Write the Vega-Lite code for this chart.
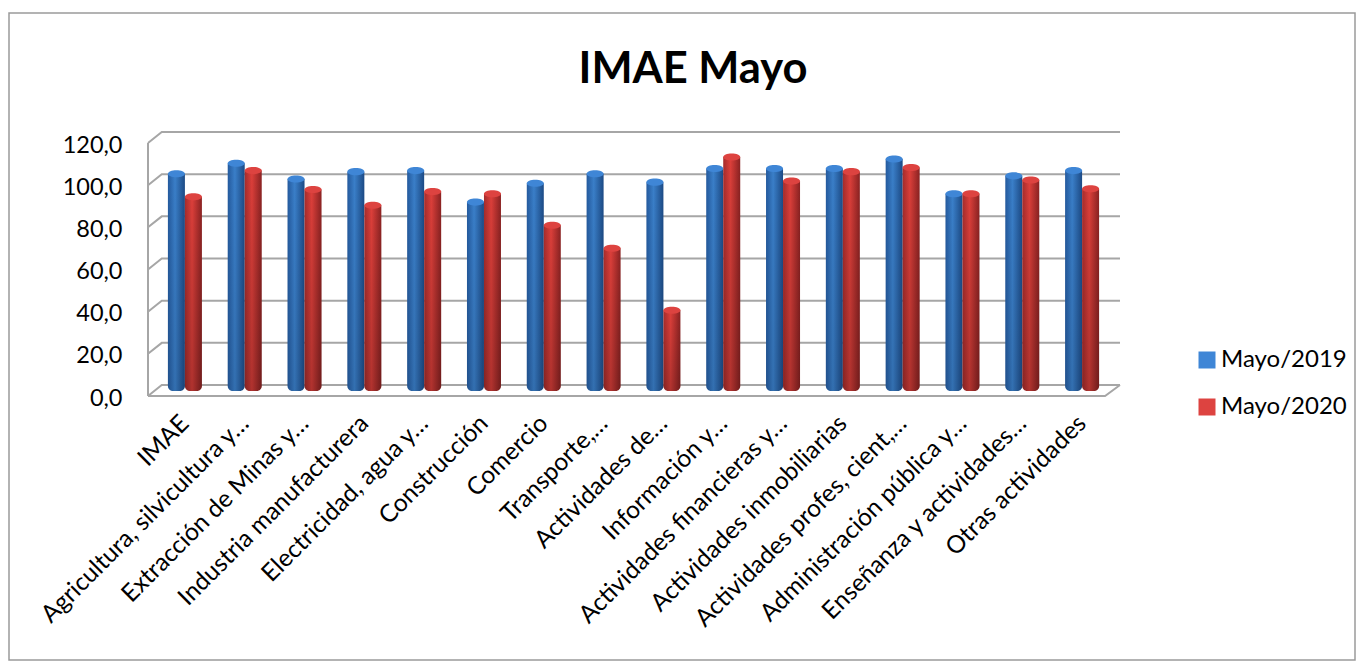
{"$schema":"https://vega.github.io/schema/vega-lite/v6.json","width":1346,"height":647,"autosize":{"type":"none"},"padding":{"left":9,"top":13,"right":9,"bottom":4},"background":"white","title":{"text":"IMAE Mayo","font":"Lato","fontSize":43.5,"fontWeight":"bold","color":"#000000","anchor":"middle","frame":"group","dx":11,"offset":-79},"config":{"view":{"stroke":"#9a9a9a","strokeWidth":1.5},"font":"Lato"},"datasets":{"bars":[{"cat":"IMAE","y2019":102.5,"y2020":91.5},{"cat":"Agricultura, silvicultura y…","y2019":107.5,"y2020":104},{"cat":"Extracción de Minas y…","y2019":100,"y2020":95},{"cat":"Industria manufacturera","y2019":103.5,"y2020":87.5},{"cat":"Electricidad, agua y…","y2019":104,"y2020":94},{"cat":"Construcción","y2019":89,"y2020":93},{"cat":"Comercio","y2019":98,"y2020":78},{"cat":"Transporte,…","y2019":102.5,"y2020":67},{"cat":"Actividades de…","y2019":98.5,"y2020":37.5},{"cat":"Información y…","y2019":105,"y2020":110.5},{"cat":"Actividades financieras y…","y2019":105,"y2020":99},{"cat":"Actividades inmobiliarias","y2019":105,"y2020":103.5},{"cat":"Actividades profes, cient,…","y2019":109.5,"y2020":105.5},{"cat":"Administración pública y…","y2019":93,"y2020":93},{"cat":"Enseñanza y actividades…","y2019":101.5,"y2020":99.5},{"cat":"Otras actividades","y2019":104,"y2020":95.3}],"walls":[{"line":"g0","along":0,"level":0},{"line":"g0","along":0.23,"level":5.2},{"line":"g0","along":16.25,"level":5.2},{"line":"g20","along":0,"level":20},{"line":"g20","along":0.23,"level":25.2},{"line":"g20","along":16.25,"level":25.2},{"line":"g40","along":0,"level":40},{"line":"g40","along":0.23,"level":45.2},{"line":"g40","along":16.25,"level":45.2},{"line":"g60","along":0,"level":60},{"line":"g60","along":0.23,"level":65.2},{"line":"g60","along":16.25,"level":65.2},{"line":"g80","along":0,"level":80},{"line":"g80","along":0.23,"level":85.2},{"line":"g80","along":16.25,"level":85.2},{"line":"g100","along":0,"level":100},{"line":"g100","along":0.23,"level":105.2},{"line":"g100","along":16.25,"level":105.2},{"line":"g120","along":0,"level":120},{"line":"g120","along":0.23,"level":125.2},{"line":"g120","along":16.25,"level":125.2},{"line":"floor","along":0,"level":0},{"line":"floor","along":16,"level":0},{"line":"floor","along":16.25,"level":5.2},{"line":"wall","along":0,"level":0},{"line":"wall","along":0,"level":120}]},"data":{"name":"bars"},"layer":[{"data":{"name":"walls"},"mark":{"type":"line","stroke":"#a6a6a6","strokeWidth":2,"interpolate":"linear"},"encoding":{"detail":{"field":"line"},"order":{"field":"along"},"x":{"field":"along","type":"quantitative","scale":{"domain":[0,16.25],"range":[139,1111],"zero":false,"nice":false},"axis":null},"y":{"field":"level","type":"quantitative","scale":{"domain":[0,120],"range":[383,130],"nice":false},"axis":{"values":[0,20,40,60,80,100,120],"offset":-139,"domain":false,"ticks":false,"grid":false,"title":null,"labelFont":"Lato","labelFontSize":23.5,"labelColor":"#000000","labelPadding":26,"labelOffset":2,"labelExpr":"replace(format(datum.value,'.1f'),'.',',')"}}}},{"mark":{"type":"bar","width":17,"xOffset":-8.5,"cornerRadiusBottomLeft":5,"cornerRadiusBottomRight":5,"fill":{"gradient":"linear","x1":0,"x2":1,"y1":0,"y2":0,"stops":[{"offset":0,"color":"#245a9e"},{"offset":0.42,"color":"#3a7fc9"},{"offset":1,"color":"#1c4a85"}]}},"encoding":{"x":{"field":"cat","type":"nominal","sort":null,"scale":{"type":"band","range":[146,1103],"paddingInner":0,"paddingOuter":0},"axis":{"offset":-264,"domain":false,"ticks":false,"title":null,"labelAngle":-45,"labelFont":"Lato","labelFontSize":24.5,"labelColor":"#000000","labelAlign":"right","labelBaseline":"top","labelPadding":15,"labelOffset":-8,"labelLimit":500,"labelOverlap":false}},"y":{"field":"y2019","type":"quantitative","scale":{"domain":[0,120],"range":[376,124],"nice":false},"axis":null},"y2":{"datum":-1}}},{"mark":{"type":"bar","width":17,"xOffset":8.5,"cornerRadiusBottomLeft":5,"cornerRadiusBottomRight":5,"fill":{"gradient":"linear","x1":0,"x2":1,"y1":0,"y2":0,"stops":[{"offset":0,"color":"#a52c2c"},{"offset":0.42,"color":"#dc3f3a"},{"offset":1,"color":"#8a2222"}]}},"encoding":{"x":{"field":"cat","type":"nominal","sort":null,"scale":{"type":"band","range":[146,1103],"paddingInner":0,"paddingOuter":0},"axis":null},"y":{"field":"y2020","type":"quantitative","scale":{"domain":[0,120],"range":[376,124],"nice":false},"axis":null},"y2":{"datum":-1}}},{"mark":{"type":"bar","width":17,"xOffset":8.5,"cornerRadiusBottomLeft":5,"cornerRadiusBottomRight":5,"fill":{"gradient":"linear","x1":0,"x2":0,"y1":0,"y2":1,"stops":[{"offset":0,"color":"rgba(0,0,0,0)"},{"offset":1,"color":"rgba(0,0,0,0.2)"}]}},"encoding":{"x":{"field":"cat","type":"nominal","sort":null,"scale":{"type":"band","range":[146,1103],"paddingInner":0,"paddingOuter":0},"axis":null},"y":{"field":"y2020","type":"quantitative","scale":{"domain":[0,120],"range":[376,124],"nice":false},"axis":null},"y2":{"datum":-1}}},{"mark":{"type":"bar","width":17,"xOffset":-8.5,"cornerRadiusBottomLeft":5,"cornerRadiusBottomRight":5,"fill":{"gradient":"linear","x1":0,"x2":0,"y1":0,"y2":1,"stops":[{"offset":0,"color":"rgba(0,0,0,0)"},{"offset":1,"color":"rgba(0,0,0,0.12)"}]}},"encoding":{"x":{"field":"cat","type":"nominal","sort":null,"scale":{"type":"band","range":[146,1103],"paddingInner":0,"paddingOuter":0},"axis":null},"y":{"field":"y2019","type":"quantitative","scale":{"domain":[0,120],"range":[376,124],"nice":false},"axis":null},"y2":{"datum":-1}}},{"transform":[{"calculate":"'Mayo/2019'","as":"serie"}],"mark":{"type":"point","filled":true,"opacity":1,"size":289,"xOffset":-8.5,"shape":"M-1,0A1,0.42 0 1 1 1,0A1,0.42 0 1 1 -1,0Z"},"encoding":{"x":{"field":"cat","type":"nominal","sort":null,"scale":{"type":"band","range":[146,1103],"paddingInner":0,"paddingOuter":0},"axis":null},"y":{"field":"y2019","type":"quantitative","scale":{"domain":[0,120],"range":[376,124],"nice":false},"axis":null},"color":{"field":"serie","type":"nominal","scale":{"domain":["Mayo/2019","Mayo/2020"],"range":["#3f86d6","#dd4340"]},"legend":{"orient":"none","legendX":1186,"legendY":335,"title":null,"symbolType":"square","symbolSize":289,"symbolStrokeWidth":0,"labelFont":"Lato","labelFontSize":24,"labelColor":"#000000","labelOffset":2,"rowPadding":23}}}},{"transform":[{"calculate":"'Mayo/2020'","as":"serie"}],"mark":{"type":"point","filled":true,"opacity":1,"size":289,"xOffset":8.5,"shape":"M-1,0A1,0.42 0 1 1 1,0A1,0.42 0 1 1 -1,0Z"},"encoding":{"x":{"field":"cat","type":"nominal","sort":null,"scale":{"type":"band","range":[146,1103],"paddingInner":0,"paddingOuter":0},"axis":null},"y":{"field":"y2020","type":"quantitative","scale":{"domain":[0,120],"range":[376,124],"nice":false},"axis":null},"color":{"field":"serie","type":"nominal","scale":{"domain":["Mayo/2019","Mayo/2020"],"range":["#3f86d6","#dd4340"]},"legend":null}}}],"resolve":{"scale":{"x":"independent","y":"independent"},"axis":{"x":"independent","y":"independent"}}}
